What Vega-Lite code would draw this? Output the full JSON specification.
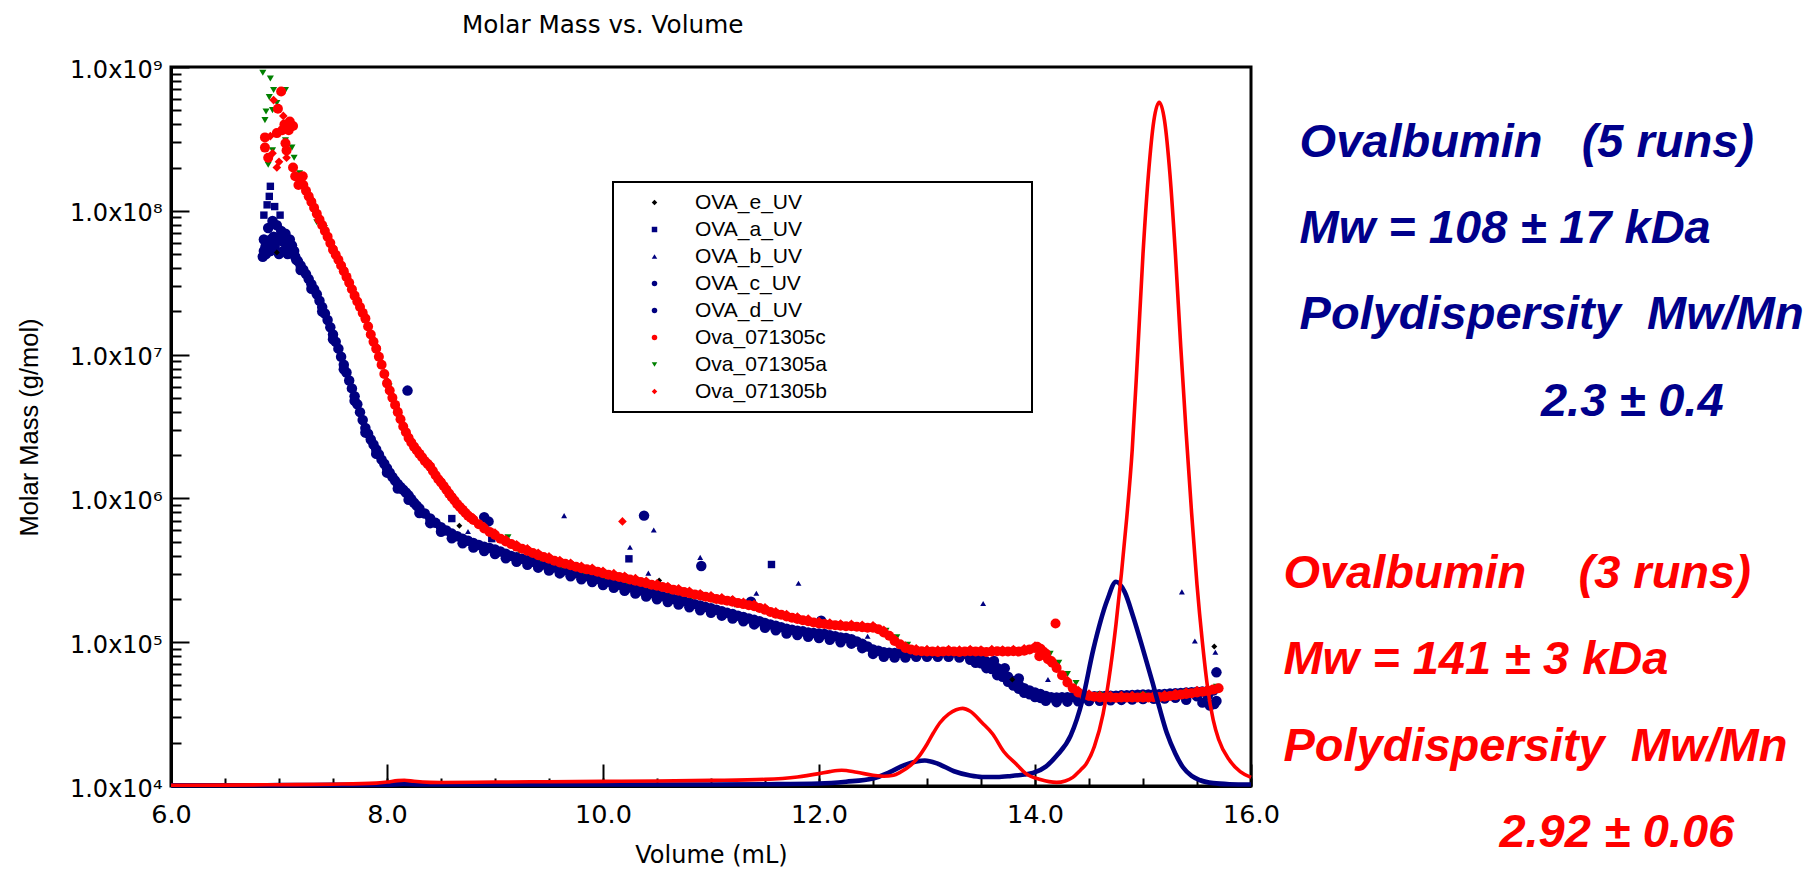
{
"$schema": "https://vega.github.io/schema/vega-lite/v6.json",
"width": 1080, "height": 719,
"autosize": {"type": "none"},
"padding": {"left": 171, "top": 67, "right": 565, "bottom": 86},
"background": "white",
"title": {"text": "Molar Mass vs. Volume", "anchor": "start", "frame": "group", "dx": 291, "dy": 24, "offset": 24, "baseline": "alphabetic", "font": "DejaVu Sans", "fontSize": 24.7, "fontWeight": "normal", "color": "black"},
"config": {
  "view": {"stroke": "black", "strokeWidth": 3},
  "axis": {"grid": false},
  "legend": {"strokeColor": "black", "strokeWidth": 2, "fillColor": "white", "padding": 10, "symbolOffset": 21, "symbolSize": 30, "labelOffset": 30, "labelLimit": 600, "labelFont": "Liberation Sans", "labelFontSize": 21, "labelColor": "black", "rowPadding": 5, "symbolStrokeWidth": 0}
},
"datasets": {
"scatter": [
{"series":"OVA_d_UV","vol":6.86,"mass":5.25e7},{"series":"OVA_d_UV","vol":6.875,"mass":5.62e7},{"series":"OVA_d_UV","vol":6.9,"mass":6.03e7},{"series":"OVA_d_UV","vol":6.925,"mass":6.31e7},{"series":"OVA_d_UV","vol":6.95,"mass":6.61e7},{"series":"OVA_d_UV","vol":6.975,"mass":6.46e7},{"series":"OVA_d_UV","vol":7.0,"mass":6.31e7},{"series":"OVA_d_UV","vol":7.025,"mass":6.17e7},{"series":"OVA_d_UV","vol":7.05,"mass":6.03e7},{"series":"OVA_d_UV","vol":7.075,"mass":5.75e7},{"series":"OVA_d_UV","vol":7.1,"mass":5.5e7},{"series":"OVA_d_UV","vol":7.125,"mass":5.13e7},{"series":"OVA_d_UV","vol":7.15,"mass":4.79e7},{"series":"OVA_d_UV","vol":7.175,"mass":4.47e7},{"series":"OVA_d_UV","vol":7.2,"mass":4.17e7},{"series":"OVA_d_UV","vol":7.225,"mass":3.89e7},{"series":"OVA_d_UV","vol":7.25,"mass":3.63e7},{"series":"OVA_d_UV","vol":7.275,"mass":3.35e7},{"series":"OVA_d_UV","vol":7.3,"mass":3.09e7},{"series":"OVA_d_UV","vol":7.325,"mass":2.85e7},{"series":"OVA_d_UV","vol":7.35,"mass":2.63e7},{"series":"OVA_d_UV","vol":7.375,"mass":2.37e7},{"series":"OVA_d_UV","vol":7.4,"mass":2.14e7},{"series":"OVA_d_UV","vol":7.425,"mass":1.93e7},{"series":"OVA_d_UV","vol":7.45,"mass":1.74e7},{"series":"OVA_d_UV","vol":7.475,"mass":1.55e7},{"series":"OVA_d_UV","vol":7.5,"mass":1.38e7},{"series":"OVA_d_UV","vol":7.525,"mass":1.23e7},{"series":"OVA_d_UV","vol":7.55,"mass":1.1e7},{"series":"OVA_d_UV","vol":7.575,"mass":9.66e6},{"series":"OVA_d_UV","vol":7.6,"mass":8.51e6},{"series":"OVA_d_UV","vol":7.625,"mass":7.5e6},{"series":"OVA_d_UV","vol":7.65,"mass":6.61e6},{"series":"OVA_d_UV","vol":7.675,"mass":5.82e6},{"series":"OVA_d_UV","vol":7.7,"mass":5.13e6},{"series":"OVA_d_UV","vol":7.725,"mass":4.52e6},{"series":"OVA_d_UV","vol":7.75,"mass":3.98e6},{"series":"OVA_d_UV","vol":7.775,"mass":3.51e6},{"series":"OVA_d_UV","vol":7.8,"mass":3.09e6},{"series":"OVA_d_UV","vol":7.825,"mass":2.82e6},{"series":"OVA_d_UV","vol":7.85,"mass":2.57e6},{"series":"OVA_d_UV","vol":7.875,"mass":2.37e6},{"series":"OVA_d_UV","vol":7.9,"mass":2.19e6},{"series":"OVA_d_UV","vol":7.925,"mass":2.02e6},{"series":"OVA_d_UV","vol":7.95,"mass":1.86e6},{"series":"OVA_d_UV","vol":7.975,"mass":1.74e6},{"series":"OVA_d_UV","vol":8.0,"mass":1.62e6},{"series":"OVA_d_UV","vol":8.025,"mass":1.51e6},{"series":"OVA_d_UV","vol":8.05,"mass":1.41e6},{"series":"OVA_d_UV","vol":8.075,"mass":1.33e6},{"series":"OVA_d_UV","vol":8.1,"mass":1.26e6},{"series":"OVA_d_UV","vol":8.125,"mass":1.2e6},{"series":"OVA_d_UV","vol":8.15,"mass":1.15e6},{"series":"OVA_d_UV","vol":8.175,"mass":1.1e6},{"series":"OVA_d_UV","vol":8.2,"mass":1.05e6},{"series":"OVA_d_UV","vol":8.225,"mass":9.89e5},{"series":"OVA_d_UV","vol":8.25,"mass":9.33e5},{"series":"OVA_d_UV","vol":8.275,"mass":8.91e5},{"series":"OVA_d_UV","vol":8.3,"mass":8.51e5},
{"series":"OVA_d_UV","vol":8.35,"mass":7.85e5},{"series":"OVA_d_UV","vol":8.4,"mass":7.24e5},{"series":"OVA_d_UV","vol":8.45,"mass":6.76e5},{"series":"OVA_d_UV","vol":8.5,"mass":6.31e5},{"series":"OVA_d_UV","vol":8.55,"mass":5.98e5},{"series":"OVA_d_UV","vol":8.6,"mass":5.69e5},{"series":"OVA_d_UV","vol":8.65,"mass":5.46e5},{"series":"OVA_d_UV","vol":8.7,"mass":5.25e5},{"series":"OVA_d_UV","vol":8.75,"mass":5.07e5},{"series":"OVA_d_UV","vol":8.8,"mass":4.9e5},{"series":"OVA_d_UV","vol":8.85,"mass":4.75e5},{"series":"OVA_d_UV","vol":8.9,"mass":4.62e5},{"series":"OVA_d_UV","vol":8.95,"mass":4.52e5},{"series":"OVA_d_UV","vol":9.0,"mass":4.42e5},{"series":"OVA_d_UV","vol":9.05,"mass":4.27e5},{"series":"OVA_d_UV","vol":9.1,"mass":4.12e5},{"series":"OVA_d_UV","vol":9.15,"mass":3.98e5},{"series":"OVA_d_UV","vol":9.2,"mass":3.89e5},{"series":"OVA_d_UV","vol":9.25,"mass":3.8e5},{"series":"OVA_d_UV","vol":9.3,"mass":3.72e5},{"series":"OVA_d_UV","vol":9.35,"mass":3.63e5},{"series":"OVA_d_UV","vol":9.4,"mass":3.55e5},{"series":"OVA_d_UV","vol":9.45,"mass":3.47e5},{"series":"OVA_d_UV","vol":9.5,"mass":3.39e5},{"series":"OVA_d_UV","vol":9.55,"mass":3.31e5},{"series":"OVA_d_UV","vol":9.6,"mass":3.24e5},{"series":"OVA_d_UV","vol":9.65,"mass":3.16e5},{"series":"OVA_d_UV","vol":9.7,"mass":3.09e5},{"series":"OVA_d_UV","vol":9.75,"mass":3.02e5},{"series":"OVA_d_UV","vol":9.8,"mass":2.95e5},{"series":"OVA_d_UV","vol":9.85,"mass":2.88e5},{"series":"OVA_d_UV","vol":9.9,"mass":2.82e5},{"series":"OVA_d_UV","vol":9.95,"mass":2.75e5},{"series":"OVA_d_UV","vol":10.0,"mass":2.69e5},{"series":"OVA_d_UV","vol":10.05,"mass":2.63e5},{"series":"OVA_d_UV","vol":10.1,"mass":2.57e5},{"series":"OVA_d_UV","vol":10.15,"mass":2.51e5},{"series":"OVA_d_UV","vol":10.2,"mass":2.45e5},{"series":"OVA_d_UV","vol":10.25,"mass":2.4e5},{"series":"OVA_d_UV","vol":10.3,"mass":2.34e5},{"series":"OVA_d_UV","vol":10.35,"mass":2.29e5},{"series":"OVA_d_UV","vol":10.4,"mass":2.24e5},{"series":"OVA_d_UV","vol":10.45,"mass":2.19e5},{"series":"OVA_d_UV","vol":10.5,"mass":2.14e5},{"series":"OVA_d_UV","vol":10.55,"mass":2.09e5},{"series":"OVA_d_UV","vol":10.6,"mass":2.04e5},{"series":"OVA_d_UV","vol":10.65,"mass":2.0e5},{"series":"OVA_d_UV","vol":10.7,"mass":1.97e5},{"series":"OVA_d_UV","vol":10.75,"mass":1.93e5},{"series":"OVA_d_UV","vol":10.8,"mass":1.88e5},{"series":"OVA_d_UV","vol":10.85,"mass":1.84e5},{"series":"OVA_d_UV","vol":10.9,"mass":1.8e5},{"series":"OVA_d_UV","vol":10.95,"mass":1.76e5},{"series":"OVA_d_UV","vol":11.0,"mass":1.72e5},{"series":"OVA_d_UV","vol":11.05,"mass":1.68e5},{"series":"OVA_d_UV","vol":11.1,"mass":1.64e5},{"series":"OVA_d_UV","vol":11.15,"mass":1.6e5},{"series":"OVA_d_UV","vol":11.2,"mass":1.57e5},{"series":"OVA_d_UV","vol":11.25,"mass":1.53e5},{"series":"OVA_d_UV","vol":11.3,"mass":1.5e5},{"series":"OVA_d_UV","vol":11.35,"mass":1.46e5},{"series":"OVA_d_UV","vol":11.4,"mass":1.43e5},{"series":"OVA_d_UV","vol":11.45,"mass":1.4e5},{"series":"OVA_d_UV","vol":11.5,"mass":1.36e5},{"series":"OVA_d_UV","vol":11.55,"mass":1.33e5},{"series":"OVA_d_UV","vol":11.6,"mass":1.3e5},{"series":"OVA_d_UV","vol":11.65,"mass":1.27e5},{"series":"OVA_d_UV","vol":11.7,"mass":1.24e5},{"series":"OVA_d_UV","vol":11.75,"mass":1.22e5},{"series":"OVA_d_UV","vol":11.8,"mass":1.2e5},{"series":"OVA_d_UV","vol":11.85,"mass":1.19e5},{"series":"OVA_d_UV","vol":11.9,"mass":1.17e5},{"series":"OVA_d_UV","vol":11.95,"mass":1.16e5},{"series":"OVA_d_UV","vol":12.0,"mass":1.15e5},{"series":"OVA_d_UV","vol":12.05,"mass":1.14e5},{"series":"OVA_d_UV","vol":12.1,"mass":1.12e5},{"series":"OVA_d_UV","vol":12.15,"mass":1.1e5},{"series":"OVA_d_UV","vol":12.2,"mass":1.08e5},{"series":"OVA_d_UV","vol":12.25,"mass":1.07e5},{"series":"OVA_d_UV","vol":12.3,"mass":1.05e5},{"series":"OVA_d_UV","vol":12.35,"mass":1.01e5},{"series":"OVA_d_UV","vol":12.4,"mass":9.77e4},{"series":"OVA_d_UV","vol":12.45,"mass":9.33e4},{"series":"OVA_d_UV","vol":12.5,"mass":8.91e4},{"series":"OVA_d_UV","vol":12.55,"mass":8.71e4},{"series":"OVA_d_UV","vol":12.6,"mass":8.51e4},{"series":"OVA_d_UV","vol":12.65,"mass":8.45e4},{"series":"OVA_d_UV","vol":12.7,"mass":8.41e4},{"series":"OVA_d_UV","vol":12.75,"mass":8.41e4},{"series":"OVA_d_UV","vol":12.8,"mass":8.41e4},{"series":"OVA_d_UV","vol":12.85,"mass":8.45e4},{"series":"OVA_d_UV","vol":12.9,"mass":8.51e4},{"series":"OVA_d_UV","vol":12.95,"mass":8.51e4},{"series":"OVA_d_UV","vol":13.0,"mass":8.51e4},{"series":"OVA_d_UV","vol":13.05,"mass":8.45e4},{"series":"OVA_d_UV","vol":13.1,"mass":8.51e4},{"series":"OVA_d_UV","vol":13.15,"mass":8.51e4},{"series":"OVA_d_UV","vol":13.2,"mass":8.45e4},{"series":"OVA_d_UV","vol":13.25,"mass":8.51e4},{"series":"OVA_d_UV","vol":13.3,"mass":8.41e4},{"series":"OVA_d_UV","vol":13.35,"mass":8.32e4},{"series":"OVA_d_UV","vol":13.4,"mass":8.13e4},{"series":"OVA_d_UV","vol":13.45,"mass":7.94e4},{"series":"OVA_d_UV","vol":13.5,"mass":7.67e4},{"series":"OVA_d_UV","vol":13.55,"mass":7.33e4},{"series":"OVA_d_UV","vol":13.6,"mass":7.0e4},{"series":"OVA_d_UV","vol":13.65,"mass":6.61e4},{"series":"OVA_d_UV","vol":13.7,"mass":6.17e4},{"series":"OVA_d_UV","vol":13.75,"mass":5.75e4},{"series":"OVA_d_UV","vol":13.8,"mass":5.37e4},{"series":"OVA_d_UV","vol":13.85,"mass":5.07e4},{"series":"OVA_d_UV","vol":13.9,"mass":4.79e4},{"series":"OVA_d_UV","vol":13.95,"mass":4.62e4},{"series":"OVA_d_UV","vol":14.0,"mass":4.47e4},{"series":"OVA_d_UV","vol":14.05,"mass":4.37e4},{"series":"OVA_d_UV","vol":14.1,"mass":4.22e4},{"series":"OVA_d_UV","vol":14.15,"mass":4.14e4},{"series":"OVA_d_UV","vol":14.2,"mass":4.12e4},{"series":"OVA_d_UV","vol":14.25,"mass":4.14e4},{"series":"OVA_d_UV","vol":14.3,"mass":4.15e4},{"series":"OVA_d_UV","vol":14.35,"mass":4.16e4},{"series":"OVA_d_UV","vol":14.4,"mass":4.17e4},{"series":"OVA_d_UV","vol":14.45,"mass":4.18e4},{"series":"OVA_d_UV","vol":14.5,"mass":4.19e4},{"series":"OVA_d_UV","vol":14.55,"mass":4.21e4},{"series":"OVA_d_UV","vol":14.6,"mass":4.22e4},{"series":"OVA_d_UV","vol":14.65,"mass":4.23e4},{"series":"OVA_d_UV","vol":14.7,"mass":4.24e4},{"series":"OVA_d_UV","vol":14.75,"mass":4.25e4},{"series":"OVA_d_UV","vol":14.8,"mass":4.27e4},{"series":"OVA_d_UV","vol":14.85,"mass":4.28e4},{"series":"OVA_d_UV","vol":14.9,"mass":4.29e4},{"series":"OVA_d_UV","vol":14.95,"mass":4.31e4},{"series":"OVA_d_UV","vol":15.0,"mass":4.32e4},{"series":"OVA_d_UV","vol":15.05,"mass":4.33e4},{"series":"OVA_d_UV","vol":15.1,"mass":4.34e4},{"series":"OVA_d_UV","vol":15.15,"mass":4.35e4},{"series":"OVA_d_UV","vol":15.2,"mass":4.37e4},{"series":"OVA_d_UV","vol":15.25,"mass":4.39e4},{"series":"OVA_d_UV","vol":15.3,"mass":4.42e4},{"series":"OVA_d_UV","vol":15.35,"mass":4.44e4},{"series":"OVA_d_UV","vol":15.4,"mass":4.47e4},{"series":"OVA_d_UV","vol":15.45,"mass":4.49e4},{"series":"OVA_d_UV","vol":15.5,"mass":4.52e4},{"series":"OVA_d_UV","vol":15.55,"mass":4.55e4},{"series":"OVA_d_UV","vol":15.6,"mass":4.57e4},{"series":"OVA_d_UV","vol":15.65,"mass":4.62e4},
{"series":"OVA_d_UV","vol":15.55,"mass":3.8e4},{"series":"OVA_d_UV","vol":15.62,"mass":3.63e4},{"series":"OVA_d_UV","vol":15.66,"mass":3.72e4},{"series":"OVA_d_UV","vol":15.4,"mass":3.98e4},{"series":"OVA_d_UV","vol":13.62,"mass":7.4e4},{"series":"OVA_d_UV","vol":13.72,"mass":6.6e4},{"series":"OVA_d_UV","vol":13.85,"mass":5.6e4},{"series":"OVA_d_UV","vol":8.94,"mass":6.92e5},
{"series":"OVA_d_UV","vol":6.85,"mass":4.79e7},{"series":"OVA_d_UV","vol":6.88,"mass":5.01e7},{"series":"OVA_d_UV","vol":6.92,"mass":5.25e7},{"series":"OVA_d_UV","vol":6.96,"mass":5.62e7},{"series":"OVA_d_UV","vol":7.0,"mass":5.01e7},{"series":"OVA_d_UV","vol":7.04,"mass":5.25e7},{"series":"OVA_d_UV","vol":7.08,"mass":5.01e7},{"series":"OVA_d_UV","vol":7.14,"mass":5.25e7},
{"series":"OVA_c_UV","vol":6.86,"mass":6.31e7},{"series":"OVA_c_UV","vol":6.9,"mass":7.59e7},{"series":"OVA_c_UV","vol":6.94,"mass":8.51e7},{"series":"OVA_c_UV","vol":6.98,"mass":7.94e7},{"series":"OVA_c_UV","vol":7.02,"mass":7.24e7},{"series":"OVA_c_UV","vol":7.06,"mass":6.92e7},{"series":"OVA_c_UV","vol":7.1,"mass":6.31e7},{"series":"OVA_c_UV","vol":7.12,"mass":5.75e7},{"series":"OVA_c_UV","vol":7.16,"mass":4.57e7},
{"series":"OVA_c_UV","vol":7.2,"mass":3.88e7},{"series":"OVA_c_UV","vol":7.3,"mass":2.87e7},{"series":"OVA_c_UV","vol":7.4,"mass":1.99e7},{"series":"OVA_c_UV","vol":7.5,"mass":1.28e7},{"series":"OVA_c_UV","vol":7.6,"mass":7.91e6},{"series":"OVA_c_UV","vol":7.7,"mass":4.77e6},{"series":"OVA_c_UV","vol":7.8,"mass":2.87e6},{"series":"OVA_c_UV","vol":7.9,"mass":2.04e6},{"series":"OVA_c_UV","vol":8.0,"mass":1.51e6},{"series":"OVA_c_UV","vol":8.1,"mass":1.17e6},{"series":"OVA_c_UV","vol":8.2,"mass":9.77e5},{"series":"OVA_c_UV","vol":8.3,"mass":7.91e5},{"series":"OVA_c_UV","vol":8.4,"mass":6.73e5},{"series":"OVA_c_UV","vol":8.5,"mass":5.87e5},{"series":"OVA_c_UV","vol":8.6,"mass":5.29e5},{"series":"OVA_c_UV","vol":8.7,"mass":4.88e5},{"series":"OVA_c_UV","vol":8.8,"mass":4.56e5},{"series":"OVA_c_UV","vol":8.9,"mass":4.3e5},{"series":"OVA_c_UV","vol":9.0,"mass":4.11e5},{"series":"OVA_c_UV","vol":9.1,"mass":3.83e5},{"series":"OVA_c_UV","vol":9.2,"mass":3.62e5},{"series":"OVA_c_UV","vol":9.3,"mass":3.46e5},{"series":"OVA_c_UV","vol":9.4,"mass":3.3e5},{"series":"OVA_c_UV","vol":9.5,"mass":3.15e5},{"series":"OVA_c_UV","vol":9.6,"mass":3.01e5},{"series":"OVA_c_UV","vol":9.7,"mass":2.87e5},{"series":"OVA_c_UV","vol":9.8,"mass":2.74e5},{"series":"OVA_c_UV","vol":9.9,"mass":2.62e5},{"series":"OVA_c_UV","vol":10.0,"mass":2.5e5},{"series":"OVA_c_UV","vol":10.1,"mass":2.39e5},{"series":"OVA_c_UV","vol":10.2,"mass":2.28e5},{"series":"OVA_c_UV","vol":10.3,"mass":2.18e5},{"series":"OVA_c_UV","vol":10.4,"mass":2.08e5},{"series":"OVA_c_UV","vol":10.5,"mass":1.99e5},{"series":"OVA_c_UV","vol":10.6,"mass":1.9e5},{"series":"OVA_c_UV","vol":10.7,"mass":1.83e5},{"series":"OVA_c_UV","vol":10.8,"mass":1.75e5},{"series":"OVA_c_UV","vol":10.9,"mass":1.67e5},{"series":"OVA_c_UV","vol":11.0,"mass":1.6e5},{"series":"OVA_c_UV","vol":11.1,"mass":1.53e5},{"series":"OVA_c_UV","vol":11.2,"mass":1.46e5},{"series":"OVA_c_UV","vol":11.3,"mass":1.4e5},{"series":"OVA_c_UV","vol":11.4,"mass":1.33e5},{"series":"OVA_c_UV","vol":11.5,"mass":1.26e5},{"series":"OVA_c_UV","vol":11.6,"mass":1.21e5},{"series":"OVA_c_UV","vol":11.7,"mass":1.15e5},{"series":"OVA_c_UV","vol":11.8,"mass":1.12e5},{"series":"OVA_c_UV","vol":11.9,"mass":1.09e5},{"series":"OVA_c_UV","vol":12.0,"mass":1.07e5},{"series":"OVA_c_UV","vol":12.1,"mass":1.04e5},{"series":"OVA_c_UV","vol":12.2,"mass":1.0e5},{"series":"OVA_c_UV","vol":12.3,"mass":9.77e4},{"series":"OVA_c_UV","vol":12.4,"mass":9.09e4},{"series":"OVA_c_UV","vol":12.5,"mass":8.29e4},{"series":"OVA_c_UV","vol":12.6,"mass":7.91e4},{"series":"OVA_c_UV","vol":12.7,"mass":7.82e4},{"series":"OVA_c_UV","vol":12.8,"mass":7.82e4},{"series":"OVA_c_UV","vol":12.9,"mass":7.91e4},{"series":"OVA_c_UV","vol":13.0,"mass":7.91e4},{"series":"OVA_c_UV","vol":13.1,"mass":7.91e4},{"series":"OVA_c_UV","vol":13.2,"mass":7.91e4},{"series":"OVA_c_UV","vol":13.3,"mass":7.82e4},{"series":"OVA_c_UV","vol":13.4,"mass":7.56e4},{"series":"OVA_c_UV","vol":13.5,"mass":7.13e4},{"series":"OVA_c_UV","vol":13.6,"mass":6.51e4},{"series":"OVA_c_UV","vol":13.7,"mass":5.74e4},{"series":"OVA_c_UV","vol":13.8,"mass":4.99e4},{"series":"OVA_c_UV","vol":13.9,"mass":4.45e4},{"series":"OVA_c_UV","vol":14.0,"mass":4.16e4},{"series":"OVA_c_UV","vol":14.1,"mass":3.92e4},{"series":"OVA_c_UV","vol":14.2,"mass":3.83e4},{"series":"OVA_c_UV","vol":14.3,"mass":3.86e4},{"series":"OVA_c_UV","vol":14.4,"mass":3.88e4},{"series":"OVA_c_UV","vol":14.5,"mass":3.9e4},{"series":"OVA_c_UV","vol":14.6,"mass":3.92e4},{"series":"OVA_c_UV","vol":14.7,"mass":3.94e4},{"series":"OVA_c_UV","vol":14.8,"mass":3.97e4},{"series":"OVA_c_UV","vol":14.9,"mass":3.99e4},{"series":"OVA_c_UV","vol":15.0,"mass":4.02e4},{"series":"OVA_c_UV","vol":15.1,"mass":4.04e4},{"series":"OVA_c_UV","vol":15.2,"mass":4.06e4},{"series":"OVA_c_UV","vol":15.3,"mass":4.11e4},{"series":"OVA_c_UV","vol":15.4,"mass":4.16e4},{"series":"OVA_c_UV","vol":15.5,"mass":4.2e4},{"series":"OVA_c_UV","vol":15.6,"mass":4.25e4},
{"series":"OVA_c_UV","vol":15.68,"mass":3.9e4},{"series":"OVA_c_UV","vol":13.45,"mass":7.2e4},{"series":"OVA_c_UV","vol":13.55,"mass":6.6e4},{"series":"OVA_c_UV","vol":13.65,"mass":5.9e4},{"series":"OVA_c_UV","vol":13.75,"mass":5.3e4},{"series":"OVA_c_UV","vol":13.85,"mass":4.75e4},{"series":"OVA_c_UV","vol":13.95,"mass":4.35e4},{"series":"OVA_c_UV","vol":14.05,"mass":4.1e4},
{"series":"OVA_c_UV","vol":8.19,"mass":5.62e6},{"series":"OVA_c_UV","vol":8.9,"mass":7.41e5},{"series":"OVA_c_UV","vol":10.38,"mass":7.59e5},{"series":"OVA_c_UV","vol":10.91,"mass":3.39e5},{"series":"OVA_c_UV","vol":11.37,"mass":1.91e5},{"series":"OVA_c_UV","vol":12.02,"mass":1.41e5},{"series":"OVA_c_UV","vol":15.68,"mass":6.17e4},
{"series":"OVA_a_UV","vol":6.92,"mass":1.48e8},{"series":"OVA_a_UV","vol":6.91,"mass":1.26e8},{"series":"OVA_a_UV","vol":6.89,"mass":1.1e8},{"series":"OVA_a_UV","vol":6.86,"mass":9.33e7},{"series":"OVA_a_UV","vol":6.96,"mass":1.07e8},{"series":"OVA_a_UV","vol":7.01,"mass":9.33e7},{"series":"OVA_a_UV","vol":8.6,"mass":7.24e5},{"series":"OVA_a_UV","vol":8.97,"mass":5.25e5},{"series":"OVA_a_UV","vol":10.24,"mass":3.8e5},{"series":"OVA_a_UV","vol":11.56,"mass":3.47e5},
{"series":"OVA_b_UV","vol":8.75,"mass":5.89e5},{"series":"OVA_b_UV","vol":9.64,"mass":7.59e5},{"series":"OVA_b_UV","vol":10.47,"mass":6.03e5},{"series":"OVA_b_UV","vol":10.25,"mass":4.57e5},{"series":"OVA_b_UV","vol":10.9,"mass":3.89e5},{"series":"OVA_b_UV","vol":11.81,"mass":2.57e5},{"series":"OVA_b_UV","vol":11.42,"mass":2.19e5},{"series":"OVA_b_UV","vol":10.42,"mass":3.02e5},{"series":"OVA_b_UV","vol":12.45,"mass":1.1e5},{"series":"OVA_b_UV","vol":13.52,"mass":1.86e5},{"series":"OVA_b_UV","vol":15.36,"mass":2.24e5},{"series":"OVA_b_UV","vol":15.48,"mass":1.02e5},{"series":"OVA_b_UV","vol":15.67,"mass":8.51e4},{"series":"OVA_b_UV","vol":14.12,"mass":5.5e4},{"series":"OVA_b_UV","vol":13.8,"mass":5.01e4},
{"series":"OVA_e_UV","vol":6.98,"mass":5.13e7},{"series":"OVA_e_UV","vol":8.67,"mass":6.46e5},{"series":"OVA_e_UV","vol":10.52,"mass":2.69e5},{"series":"OVA_e_UV","vol":11.19,"mass":2.0e5},{"series":"OVA_e_UV","vol":13.79,"mass":5.5e4},{"series":"OVA_e_UV","vol":15.66,"mass":9.33e4},
{"series":"Ova_071305a","vol":6.85,"mass":9.12e8},{"series":"Ova_071305a","vol":6.92,"mass":8.32e8},{"series":"Ova_071305a","vol":6.95,"mass":6.92e8},{"series":"Ova_071305a","vol":7.06,"mass":6.92e8},{"series":"Ova_071305a","vol":6.91,"mass":6.17e8},{"series":"Ova_071305a","vol":6.98,"mass":5.62e8},{"series":"Ova_071305a","vol":6.88,"mass":4.9e8},{"series":"Ova_071305a","vol":6.94,"mass":5.01e8},{"series":"Ova_071305a","vol":6.87,"mass":4.27e8},{"series":"Ova_071305a","vol":7.01,"mass":3.47e8},{"series":"Ova_071305a","vol":7.06,"mass":3.09e8},{"series":"Ova_071305a","vol":7.12,"mass":2.75e8},{"series":"Ova_071305a","vol":6.94,"mass":2.63e8},{"series":"Ova_071305a","vol":6.9,"mass":2.09e8},{"series":"Ova_071305a","vol":7.14,"mass":2.34e8},{"series":"Ova_071305a","vol":7.19,"mass":1.82e8},{"series":"Ova_071305a","vol":7.27,"mass":1.26e8},{"series":"Ova_071305a","vol":7.35,"mass":8.32e7},
{"series":"Ova_071305a","vol":7.42,"mass":7.6e7},{"series":"Ova_071305a","vol":7.62,"mass":3.5e7},{"series":"Ova_071305a","vol":7.82,"mass":1.6e7},{"series":"Ova_071305a","vol":8.02,"mass":6.0e6},{"series":"Ova_071305a","vol":8.22,"mass":2.45e6},{"series":"Ova_071305a","vol":8.42,"mass":1.55e6},{"series":"Ova_071305a","vol":8.62,"mass":9.6e5},{"series":"Ova_071305a","vol":8.82,"mass":6.7e5},{"series":"Ova_071305a","vol":9.02,"mass":5.25e5},{"series":"Ova_071305a","vol":9.12,"mass":5.37e5},{"series":"Ova_071305a","vol":9.22,"mass":4.35e5},{"series":"Ova_071305a","vol":9.42,"mass":3.8e5},{"series":"Ova_071305a","vol":9.62,"mass":3.4e5},{"series":"Ova_071305a","vol":9.82,"mass":3.1e5},{"series":"Ova_071305a","vol":10.02,"mass":2.85e5},{"series":"Ova_071305a","vol":10.22,"mass":2.65e5},{"series":"Ova_071305a","vol":10.42,"mass":2.45e5},{"series":"Ova_071305a","vol":10.62,"mass":2.25e5},{"series":"Ova_071305a","vol":10.82,"mass":2.08e5},{"series":"Ova_071305a","vol":11.02,"mass":1.95e5},{"series":"Ova_071305a","vol":11.22,"mass":1.82e5},{"series":"Ova_071305a","vol":11.42,"mass":1.7e5},{"series":"Ova_071305a","vol":11.62,"mass":1.52e5},{"series":"Ova_071305a","vol":11.82,"mass":1.4e5},{"series":"Ova_071305a","vol":12.02,"mass":1.31e5},{"series":"Ova_071305a","vol":12.22,"mass":1.28e5},{"series":"Ova_071305a","vol":12.42,"mass":1.27e5},{"series":"Ova_071305a","vol":12.62,"mass":1.2e5},{"series":"Ova_071305a","vol":12.72,"mass":1.08e5},{"series":"Ova_071305a","vol":12.82,"mass":9.6e4},{"series":"Ova_071305a","vol":13.02,"mass":8.8e4},{"series":"Ova_071305a","vol":13.42,"mass":8.8e4},{"series":"Ova_071305a","vol":13.82,"mass":8.8e4},{"series":"Ova_071305a","vol":14.02,"mass":9.3e4},{"series":"Ova_071305a","vol":14.14,"mass":8.3e4},{"series":"Ova_071305a","vol":14.22,"mass":7.2e4},{"series":"Ova_071305a","vol":14.3,"mass":6.0e4},{"series":"Ova_071305a","vol":14.38,"mass":5.2e4},{"series":"Ova_071305a","vol":14.6,"mass":4.3e4},{"series":"Ova_071305a","vol":15.0,"mass":4.3e4},{"series":"Ova_071305a","vol":15.4,"mass":4.5e4},{"series":"Ova_071305a","vol":15.68,"mass":4.9e4},
{"series":"Ova_071305b","vol":6.95,"mass":5.89e8},{"series":"Ova_071305b","vol":6.94,"mass":2.51e8},{"series":"Ova_071305b","vol":7.0,"mass":2.19e8},{"series":"Ova_071305b","vol":6.98,"mass":2.0e8},{"series":"Ova_071305b","vol":7.07,"mass":2.34e8},{"series":"Ova_071305b","vol":7.04,"mass":4.57e8},{"series":"Ova_071305b","vol":6.92,"mass":3.31e8},{"series":"Ova_071305b","vol":10.18,"mass":6.92e5},
{"series":"Ova_071305b","vol":7.3,"mass":1.2e8},{"series":"Ova_071305b","vol":7.4,"mass":8.26e7},{"series":"Ova_071305b","vol":7.5,"mass":5.58e7},{"series":"Ova_071305b","vol":7.6,"mass":3.95e7},{"series":"Ova_071305b","vol":7.7,"mass":2.67e7},{"series":"Ova_071305b","vol":7.8,"mass":1.85e7},{"series":"Ova_071305b","vol":7.9,"mass":1.14e7},{"series":"Ova_071305b","vol":8.0,"mass":6.56e6},{"series":"Ova_071305b","vol":8.1,"mass":4.14e6},{"series":"Ova_071305b","vol":8.2,"mass":2.74e6},{"series":"Ova_071305b","vol":8.3,"mass":2.12e6},{"series":"Ova_071305b","vol":8.4,"mass":1.73e6},{"series":"Ova_071305b","vol":8.5,"mass":1.34e6},{"series":"Ova_071305b","vol":8.6,"mass":1.06e6},{"series":"Ova_071305b","vol":8.7,"mass":8.65e5},{"series":"Ova_071305b","vol":8.8,"mass":7.36e5},{"series":"Ova_071305b","vol":8.9,"mass":6.42e5},{"series":"Ova_071305b","vol":9.0,"mass":5.78e5},{"series":"Ova_071305b","vol":9.1,"mass":5.21e5},{"series":"Ova_071305b","vol":9.2,"mass":4.8e5},{"series":"Ova_071305b","vol":9.3,"mass":4.49e5},{"series":"Ova_071305b","vol":9.4,"mass":4.19e5},{"series":"Ova_071305b","vol":9.5,"mass":3.95e5},{"series":"Ova_071305b","vol":9.6,"mass":3.73e5},{"series":"Ova_071305b","vol":9.7,"mass":3.57e5},{"series":"Ova_071305b","vol":9.8,"mass":3.4e5},{"series":"Ova_071305b","vol":9.9,"mass":3.29e5},{"series":"Ova_071305b","vol":10.0,"mass":3.14e5},{"series":"Ova_071305b","vol":10.1,"mass":3.02e5},{"series":"Ova_071305b","vol":10.2,"mass":2.9e5},{"series":"Ova_071305b","vol":10.3,"mass":2.79e5},{"series":"Ova_071305b","vol":10.4,"mass":2.67e5},{"series":"Ova_071305b","vol":10.5,"mass":2.57e5},{"series":"Ova_071305b","vol":10.6,"mass":2.46e5},{"series":"Ova_071305b","vol":10.7,"mass":2.37e5},{"series":"Ova_071305b","vol":10.8,"mass":2.28e5},{"series":"Ova_071305b","vol":10.9,"mass":2.19e5},{"series":"Ova_071305b","vol":11.0,"mass":2.12e5},{"series":"Ova_071305b","vol":11.1,"mass":2.05e5},{"series":"Ova_071305b","vol":11.2,"mass":1.99e5},{"series":"Ova_071305b","vol":11.3,"mass":1.91e5},{"series":"Ova_071305b","vol":11.4,"mass":1.85e5},{"series":"Ova_071305b","vol":11.5,"mass":1.75e5},{"series":"Ova_071305b","vol":11.6,"mass":1.64e5},{"series":"Ova_071305b","vol":11.7,"mass":1.57e5},{"series":"Ova_071305b","vol":11.8,"mass":1.51e5},{"series":"Ova_071305b","vol":11.9,"mass":1.46e5},{"series":"Ova_071305b","vol":12.0,"mass":1.4e5},{"series":"Ova_071305b","vol":12.1,"mass":1.37e5},{"series":"Ova_071305b","vol":12.2,"mass":1.35e5},{"series":"Ova_071305b","vol":12.3,"mass":1.34e5},{"series":"Ova_071305b","vol":12.4,"mass":1.32e5},{"series":"Ova_071305b","vol":12.5,"mass":1.31e5},{"series":"Ova_071305b","vol":12.6,"mass":1.22e5},{"series":"Ova_071305b","vol":12.7,"mass":1.06e5},{"series":"Ova_071305b","vol":12.8,"mass":9.48e4},{"series":"Ova_071305b","vol":12.9,"mass":9.06e4},{"series":"Ova_071305b","vol":13.0,"mass":8.95e4},{"series":"Ova_071305b","vol":13.1,"mass":8.9e4},{"series":"Ova_071305b","vol":13.2,"mass":8.95e4},{"series":"Ova_071305b","vol":13.3,"mass":8.9e4},{"series":"Ova_071305b","vol":13.4,"mass":8.95e4},{"series":"Ova_071305b","vol":13.5,"mass":8.9e4},{"series":"Ova_071305b","vol":13.6,"mass":8.95e4},{"series":"Ova_071305b","vol":13.7,"mass":8.9e4},{"series":"Ova_071305b","vol":13.8,"mass":8.95e4},{"series":"Ova_071305b","vol":13.9,"mass":9.06e4},{"series":"Ova_071305b","vol":14.0,"mass":9.48e4},{"series":"Ova_071305b","vol":14.1,"mass":8.65e4},{"series":"Ova_071305b","vol":14.2,"mass":6.87e4},{"series":"Ova_071305b","vol":14.3,"mass":5.46e4},{"series":"Ova_071305b","vol":14.4,"mass":4.65e4},{"series":"Ova_071305b","vol":14.5,"mass":4.39e4},{"series":"Ova_071305b","vol":14.6,"mass":4.3e4},{"series":"Ova_071305b","vol":14.7,"mass":4.29e4},{"series":"Ova_071305b","vol":14.8,"mass":4.29e4},{"series":"Ova_071305b","vol":14.9,"mass":4.29e4},{"series":"Ova_071305b","vol":15.0,"mass":4.29e4},{"series":"Ova_071305b","vol":15.1,"mass":4.3e4},{"series":"Ova_071305b","vol":15.2,"mass":4.34e4},{"series":"Ova_071305b","vol":15.3,"mass":4.44e4},{"series":"Ova_071305b","vol":15.4,"mass":4.54e4},{"series":"Ova_071305b","vol":15.5,"mass":4.65e4},{"series":"Ova_071305b","vol":15.6,"mass":4.75e4},
{"series":"Ova_071305c","vol":7.02,"mass":6.76e8},{"series":"Ova_071305c","vol":6.99,"mass":5.13e8},{"series":"Ova_071305c","vol":7.13,"mass":3.89e8},{"series":"Ova_071305c","vol":7.09,"mass":3.63e8},{"series":"Ova_071305c","vol":7.03,"mass":3.63e8},{"series":"Ova_071305c","vol":6.98,"mass":3.47e8},{"series":"Ova_071305c","vol":6.87,"mass":3.24e8},{"series":"Ova_071305c","vol":6.87,"mass":2.75e8},{"series":"Ova_071305c","vol":7.06,"mass":2.95e8},{"series":"Ova_071305c","vol":7.07,"mass":2.63e8},{"series":"Ova_071305c","vol":6.9,"mass":2.34e8},{"series":"Ova_071305c","vol":7.13,"mass":2.0e8},{"series":"Ova_071305c","vol":7.15,"mass":1.74e8},{"series":"Ova_071305c","vol":7.19,"mass":1.7e8},{"series":"Ova_071305c","vol":7.22,"mass":1.74e8},{"series":"Ova_071305c","vol":7.18,"mass":1.51e8},{"series":"Ova_071305c","vol":7.05,"mass":3.98e8},{"series":"Ova_071305c","vol":7.1,"mass":4.17e8},
{"series":"Ova_071305c","vol":7.2,"mass":1.66e8},{"series":"Ova_071305c","vol":7.225,"mass":1.51e8},{"series":"Ova_071305c","vol":7.25,"mass":1.38e8},{"series":"Ova_071305c","vol":7.275,"mass":1.26e8},{"series":"Ova_071305c","vol":7.3,"mass":1.15e8},{"series":"Ova_071305c","vol":7.325,"mass":1.05e8},{"series":"Ova_071305c","vol":7.35,"mass":9.55e7},{"series":"Ova_071305c","vol":7.375,"mass":8.71e7},{"series":"Ova_071305c","vol":7.4,"mass":7.94e7},{"series":"Ova_071305c","vol":7.425,"mass":7.24e7},{"series":"Ova_071305c","vol":7.45,"mass":6.61e7},{"series":"Ova_071305c","vol":7.475,"mass":5.96e7},{"series":"Ova_071305c","vol":7.5,"mass":5.37e7},{"series":"Ova_071305c","vol":7.525,"mass":4.95e7},{"series":"Ova_071305c","vol":7.55,"mass":4.57e7},{"series":"Ova_071305c","vol":7.575,"mass":4.17e7},{"series":"Ova_071305c","vol":7.6,"mass":3.8e7},{"series":"Ova_071305c","vol":7.625,"mass":3.47e7},{"series":"Ova_071305c","vol":7.65,"mass":3.16e7},{"series":"Ova_071305c","vol":7.675,"mass":2.85e7},{"series":"Ova_071305c","vol":7.7,"mass":2.57e7},{"series":"Ova_071305c","vol":7.725,"mass":2.34e7},{"series":"Ova_071305c","vol":7.75,"mass":2.14e7},{"series":"Ova_071305c","vol":7.775,"mass":1.95e7},{"series":"Ova_071305c","vol":7.8,"mass":1.78e7},{"series":"Ova_071305c","vol":7.825,"mass":1.57e7},{"series":"Ova_071305c","vol":7.85,"mass":1.38e7},{"series":"Ova_071305c","vol":7.875,"mass":1.23e7},{"series":"Ova_071305c","vol":7.9,"mass":1.1e7},{"series":"Ova_071305c","vol":7.925,"mass":9.66e6},{"series":"Ova_071305c","vol":7.95,"mass":8.51e6},{"series":"Ova_071305c","vol":7.975,"mass":7.33e6},{"series":"Ova_071305c","vol":8.0,"mass":6.31e6},{"series":"Ova_071305c","vol":8.025,"mass":5.62e6},{"series":"Ova_071305c","vol":8.05,"mass":5.01e6},{"series":"Ova_071305c","vol":8.075,"mass":4.47e6},{"series":"Ova_071305c","vol":8.1,"mass":3.98e6},{"series":"Ova_071305c","vol":8.125,"mass":3.55e6},{"series":"Ova_071305c","vol":8.15,"mass":3.16e6},{"series":"Ova_071305c","vol":8.175,"mass":2.88e6},{"series":"Ova_071305c","vol":8.2,"mass":2.63e6},{"series":"Ova_071305c","vol":8.225,"mass":2.45e6},{"series":"Ova_071305c","vol":8.25,"mass":2.29e6},{"series":"Ova_071305c","vol":8.275,"mass":2.16e6},{"series":"Ova_071305c","vol":8.3,"mass":2.04e6},{"series":"Ova_071305c","vol":8.325,"mass":1.93e6},{"series":"Ova_071305c","vol":8.35,"mass":1.82e6},{"series":"Ova_071305c","vol":8.375,"mass":1.74e6},{"series":"Ova_071305c","vol":8.4,"mass":1.66e6},{"series":"Ova_071305c","vol":8.425,"mass":1.55e6},{"series":"Ova_071305c","vol":8.45,"mass":1.45e6},{"series":"Ova_071305c","vol":8.475,"mass":1.36e6},{"series":"Ova_071305c","vol":8.5,"mass":1.29e6},{"series":"Ova_071305c","vol":8.525,"mass":1.22e6},{"series":"Ova_071305c","vol":8.55,"mass":1.15e6},{"series":"Ova_071305c","vol":8.575,"mass":1.08e6},{"series":"Ova_071305c","vol":8.6,"mass":1.02e6},{"series":"Ova_071305c","vol":8.625,"mass":9.66e5},{"series":"Ova_071305c","vol":8.65,"mass":9.12e5},{"series":"Ova_071305c","vol":8.675,"mass":8.71e5},{"series":"Ova_071305c","vol":8.7,"mass":8.32e5},{"series":"Ova_071305c","vol":8.725,"mass":7.94e5},{"series":"Ova_071305c","vol":8.75,"mass":7.59e5},{"series":"Ova_071305c","vol":8.775,"mass":7.33e5},{"series":"Ova_071305c","vol":8.8,"mass":7.08e5},
{"series":"Ova_071305c","vol":8.85,"mass":6.61e5},{"series":"Ova_071305c","vol":8.9,"mass":6.17e5},{"series":"Ova_071305c","vol":8.95,"mass":5.85e5},{"series":"Ova_071305c","vol":9.0,"mass":5.56e5},{"series":"Ova_071305c","vol":9.05,"mass":5.25e5},{"series":"Ova_071305c","vol":9.1,"mass":5.01e5},{"series":"Ova_071305c","vol":9.15,"mass":4.81e5},{"series":"Ova_071305c","vol":9.2,"mass":4.62e5},{"series":"Ova_071305c","vol":9.25,"mass":4.47e5},{"series":"Ova_071305c","vol":9.3,"mass":4.32e5},{"series":"Ova_071305c","vol":9.35,"mass":4.17e5},{"series":"Ova_071305c","vol":9.4,"mass":4.03e5},{"series":"Ova_071305c","vol":9.45,"mass":3.91e5},{"series":"Ova_071305c","vol":9.5,"mass":3.8e5},{"series":"Ova_071305c","vol":9.55,"mass":3.69e5},{"series":"Ova_071305c","vol":9.6,"mass":3.59e5},{"series":"Ova_071305c","vol":9.65,"mass":3.51e5},{"series":"Ova_071305c","vol":9.7,"mass":3.43e5},{"series":"Ova_071305c","vol":9.75,"mass":3.35e5},{"series":"Ova_071305c","vol":9.8,"mass":3.27e5},{"series":"Ova_071305c","vol":9.85,"mass":3.21e5},{"series":"Ova_071305c","vol":9.9,"mass":3.16e5},{"series":"Ova_071305c","vol":9.95,"mass":3.09e5},{"series":"Ova_071305c","vol":10.0,"mass":3.02e5},{"series":"Ova_071305c","vol":10.05,"mass":2.95e5},{"series":"Ova_071305c","vol":10.1,"mass":2.9e5},{"series":"Ova_071305c","vol":10.15,"mass":2.84e5},{"series":"Ova_071305c","vol":10.2,"mass":2.79e5},{"series":"Ova_071305c","vol":10.25,"mass":2.73e5},{"series":"Ova_071305c","vol":10.3,"mass":2.68e5},{"series":"Ova_071305c","vol":10.35,"mass":2.62e5},{"series":"Ova_071305c","vol":10.4,"mass":2.57e5},{"series":"Ova_071305c","vol":10.45,"mass":2.51e5},{"series":"Ova_071305c","vol":10.5,"mass":2.47e5},{"series":"Ova_071305c","vol":10.55,"mass":2.42e5},{"series":"Ova_071305c","vol":10.6,"mass":2.37e5},{"series":"Ova_071305c","vol":10.65,"mass":2.32e5},{"series":"Ova_071305c","vol":10.7,"mass":2.28e5},{"series":"Ova_071305c","vol":10.75,"mass":2.23e5},{"series":"Ova_071305c","vol":10.8,"mass":2.19e5},{"series":"Ova_071305c","vol":10.85,"mass":2.15e5},{"series":"Ova_071305c","vol":10.9,"mass":2.11e5},{"series":"Ova_071305c","vol":10.95,"mass":2.07e5},{"series":"Ova_071305c","vol":11.0,"mass":2.04e5},{"series":"Ova_071305c","vol":11.05,"mass":2.0e5},{"series":"Ova_071305c","vol":11.1,"mass":1.97e5},{"series":"Ova_071305c","vol":11.15,"mass":1.94e5},{"series":"Ova_071305c","vol":11.2,"mass":1.91e5},{"series":"Ova_071305c","vol":11.25,"mass":1.87e5},{"series":"Ova_071305c","vol":11.3,"mass":1.84e5},{"series":"Ova_071305c","vol":11.35,"mass":1.81e5},{"series":"Ova_071305c","vol":11.4,"mass":1.78e5},{"series":"Ova_071305c","vol":11.45,"mass":1.73e5},{"series":"Ova_071305c","vol":11.5,"mass":1.68e5},{"series":"Ova_071305c","vol":11.55,"mass":1.62e5},{"series":"Ova_071305c","vol":11.6,"mass":1.58e5},{"series":"Ova_071305c","vol":11.65,"mass":1.55e5},{"series":"Ova_071305c","vol":11.7,"mass":1.51e5},{"series":"Ova_071305c","vol":11.75,"mass":1.48e5},{"series":"Ova_071305c","vol":11.8,"mass":1.45e5},{"series":"Ova_071305c","vol":11.85,"mass":1.42e5},{"series":"Ova_071305c","vol":11.9,"mass":1.4e5},{"series":"Ova_071305c","vol":11.95,"mass":1.37e5},{"series":"Ova_071305c","vol":12.0,"mass":1.35e5},{"series":"Ova_071305c","vol":12.05,"mass":1.34e5},{"series":"Ova_071305c","vol":12.1,"mass":1.32e5},{"series":"Ova_071305c","vol":12.15,"mass":1.31e5},{"series":"Ova_071305c","vol":12.2,"mass":1.3e5},{"series":"Ova_071305c","vol":12.25,"mass":1.29e5},{"series":"Ova_071305c","vol":12.3,"mass":1.29e5},{"series":"Ova_071305c","vol":12.35,"mass":1.28e5},{"series":"Ova_071305c","vol":12.4,"mass":1.27e5},{"series":"Ova_071305c","vol":12.45,"mass":1.26e5},{"series":"Ova_071305c","vol":12.5,"mass":1.26e5},{"series":"Ova_071305c","vol":12.55,"mass":1.23e5},{"series":"Ova_071305c","vol":12.6,"mass":1.17e5},{"series":"Ova_071305c","vol":12.65,"mass":1.11e5},{"series":"Ova_071305c","vol":12.7,"mass":1.02e5},{"series":"Ova_071305c","vol":12.75,"mass":9.66e4},{"series":"Ova_071305c","vol":12.8,"mass":9.12e4},{"series":"Ova_071305c","vol":12.85,"mass":8.91e4},{"series":"Ova_071305c","vol":12.9,"mass":8.71e4},{"series":"Ova_071305c","vol":12.95,"mass":8.65e4},{"series":"Ova_071305c","vol":13.0,"mass":8.61e4},{"series":"Ova_071305c","vol":13.05,"mass":8.61e4},{"series":"Ova_071305c","vol":13.1,"mass":8.55e4},{"series":"Ova_071305c","vol":13.15,"mass":8.61e4},{"series":"Ova_071305c","vol":13.2,"mass":8.65e4},{"series":"Ova_071305c","vol":13.25,"mass":8.61e4},{"series":"Ova_071305c","vol":13.3,"mass":8.55e4},{"series":"Ova_071305c","vol":13.35,"mass":8.61e4},{"series":"Ova_071305c","vol":13.4,"mass":8.65e4},{"series":"Ova_071305c","vol":13.45,"mass":8.61e4},{"series":"Ova_071305c","vol":13.5,"mass":8.61e4},{"series":"Ova_071305c","vol":13.55,"mass":8.55e4},{"series":"Ova_071305c","vol":13.6,"mass":8.61e4},{"series":"Ova_071305c","vol":13.65,"mass":8.65e4},{"series":"Ova_071305c","vol":13.7,"mass":8.61e4},{"series":"Ova_071305c","vol":13.75,"mass":8.61e4},{"series":"Ova_071305c","vol":13.8,"mass":8.65e4},{"series":"Ova_071305c","vol":13.85,"mass":8.61e4},{"series":"Ova_071305c","vol":13.9,"mass":8.71e4},{"series":"Ova_071305c","vol":13.95,"mass":8.91e4},{"series":"Ova_071305c","vol":14.0,"mass":9.12e4},{"series":"Ova_071305c","vol":14.05,"mass":9.02e4},{"series":"Ova_071305c","vol":14.1,"mass":8.32e4},{"series":"Ova_071305c","vol":14.15,"mass":7.41e4},{"series":"Ova_071305c","vol":14.2,"mass":6.61e4},{"series":"Ova_071305c","vol":14.25,"mass":5.89e4},{"series":"Ova_071305c","vol":14.3,"mass":5.25e4},{"series":"Ova_071305c","vol":14.35,"mass":4.79e4},{"series":"Ova_071305c","vol":14.4,"mass":4.47e4},{"series":"Ova_071305c","vol":14.45,"mass":4.32e4},{"series":"Ova_071305c","vol":14.5,"mass":4.22e4},{"series":"Ova_071305c","vol":14.55,"mass":4.17e4},{"series":"Ova_071305c","vol":14.6,"mass":4.13e4},{"series":"Ova_071305c","vol":14.65,"mass":4.12e4},{"series":"Ova_071305c","vol":14.7,"mass":4.12e4},{"series":"Ova_071305c","vol":14.75,"mass":4.11e4},{"series":"Ova_071305c","vol":14.8,"mass":4.12e4},{"series":"Ova_071305c","vol":14.85,"mass":4.12e4},{"series":"Ova_071305c","vol":14.9,"mass":4.12e4},{"series":"Ova_071305c","vol":14.95,"mass":4.13e4},{"series":"Ova_071305c","vol":15.0,"mass":4.12e4},{"series":"Ova_071305c","vol":15.05,"mass":4.13e4},{"series":"Ova_071305c","vol":15.1,"mass":4.14e4},{"series":"Ova_071305c","vol":15.15,"mass":4.15e4},{"series":"Ova_071305c","vol":15.2,"mass":4.17e4},{"series":"Ova_071305c","vol":15.25,"mass":4.22e4},{"series":"Ova_071305c","vol":15.3,"mass":4.27e4},{"series":"Ova_071305c","vol":15.35,"mass":4.32e4},{"series":"Ova_071305c","vol":15.4,"mass":4.37e4},{"series":"Ova_071305c","vol":15.45,"mass":4.42e4},{"series":"Ova_071305c","vol":15.5,"mass":4.47e4},{"series":"Ova_071305c","vol":15.55,"mass":4.52e4},{"series":"Ova_071305c","vol":15.6,"mass":4.57e4},{"series":"Ova_071305c","vol":15.65,"mass":4.68e4},{"series":"Ova_071305c","vol":15.7,"mass":4.79e4},
{"series":"Ova_071305c","vol":14.02,"mass":9.3e4},{"series":"Ova_071305c","vol":14.06,"mass":8.8e4},{"series":"Ova_071305c","vol":14.08,"mass":8.3e4},{"series":"Ova_071305c","vol":14.12,"mass":7.6e4},{"series":"Ova_071305c","vol":14.16,"mass":7.2e4},{"series":"Ova_071305c","vol":14.04,"mass":8.0e4},{"series":"Ova_071305c","vol":14.19,"mass":1.35e5}
],
"traces": [
{"trace":"OVA_UV","vol":6.0,"signal":0.001},{"trace":"OVA_UV","vol":6.5,"signal":0.001},{"trace":"OVA_UV","vol":7.0,"signal":0.0012},{"trace":"OVA_UV","vol":7.5,"signal":0.0015},{"trace":"OVA_UV","vol":8.0,"signal":0.0018},{"trace":"OVA_UV","vol":8.15,"signal":0.0028},{"trace":"OVA_UV","vol":8.3,"signal":0.002},{"trace":"OVA_UV","vol":9.0,"signal":0.002},{"trace":"OVA_UV","vol":10.0,"signal":0.002},{"trace":"OVA_UV","vol":11.0,"signal":0.002},{"trace":"OVA_UV","vol":11.5,"signal":0.0025},{"trace":"OVA_UV","vol":12.0,"signal":0.0035},{"trace":"OVA_UV","vol":12.25,"signal":0.006},{"trace":"OVA_UV","vol":12.5,"signal":0.0105},{"trace":"OVA_UV","vol":12.65,"signal":0.019},{"trace":"OVA_UV","vol":12.79,"signal":0.029},{"trace":"OVA_UV","vol":12.9,"signal":0.034},{"trace":"OVA_UV","vol":12.98,"signal":0.0355},{"trace":"OVA_UV","vol":13.1,"signal":0.031},{"trace":"OVA_UV","vol":13.25,"signal":0.0205},{"trace":"OVA_UV","vol":13.4,"signal":0.0145},{"trace":"OVA_UV","vol":13.51,"signal":0.0125},{"trace":"OVA_UV","vol":13.65,"signal":0.0125},{"trace":"OVA_UV","vol":13.78,"signal":0.014},{"trace":"OVA_UV","vol":13.9,"signal":0.016},{"trace":"OVA_UV","vol":13.98,"signal":0.018},{"trace":"OVA_UV","vol":14.1,"signal":0.027},{"trace":"OVA_UV","vol":14.2,"signal":0.042},{"trace":"OVA_UV","vol":14.33,"signal":0.07},{"trace":"OVA_UV","vol":14.44,"signal":0.12},{"trace":"OVA_UV","vol":14.54,"signal":0.19},{"trace":"OVA_UV","vol":14.67,"signal":0.259},{"trace":"OVA_UV","vol":14.75,"signal":0.284},{"trace":"OVA_UV","vol":14.83,"signal":0.27},{"trace":"OVA_UV","vol":14.91,"signal":0.235},{"trace":"OVA_UV","vol":15.0,"signal":0.19},{"trace":"OVA_UV","vol":15.09,"signal":0.143},{"trace":"OVA_UV","vol":15.15,"signal":0.11},{"trace":"OVA_UV","vol":15.22,"signal":0.074},{"trace":"OVA_UV","vol":15.3,"signal":0.045},{"trace":"OVA_UV","vol":15.37,"signal":0.026},{"trace":"OVA_UV","vol":15.45,"signal":0.014},{"trace":"OVA_UV","vol":15.53,"signal":0.008},{"trace":"OVA_UV","vol":15.65,"signal":0.004},{"trace":"OVA_UV","vol":15.8,"signal":0.0025},{"trace":"OVA_UV","vol":16.0,"signal":0.002},
{"trace":"Ova_071305","vol":6.0,"signal":0.001},{"trace":"Ova_071305","vol":6.5,"signal":0.0012},{"trace":"Ova_071305","vol":7.0,"signal":0.0018},{"trace":"Ova_071305","vol":7.5,"signal":0.0025},{"trace":"Ova_071305","vol":7.9,"signal":0.004},{"trace":"Ova_071305","vol":8.0,"signal":0.0055},{"trace":"Ova_071305","vol":8.1,"signal":0.0075},{"trace":"Ova_071305","vol":8.16,"signal":0.008},{"trace":"Ova_071305","vol":8.25,"signal":0.0065},{"trace":"Ova_071305","vol":8.4,"signal":0.005},{"trace":"Ova_071305","vol":8.5,"signal":0.0048},{"trace":"Ova_071305","vol":9.0,"signal":0.0055},{"trace":"Ova_071305","vol":9.5,"signal":0.006},{"trace":"Ova_071305","vol":10.0,"signal":0.0065},{"trace":"Ova_071305","vol":10.5,"signal":0.007},{"trace":"Ova_071305","vol":11.0,"signal":0.0078},{"trace":"Ova_071305","vol":11.5,"signal":0.0092},{"trace":"Ova_071305","vol":11.8,"signal":0.0125},{"trace":"Ova_071305","vol":12.0,"signal":0.0172},{"trace":"Ova_071305","vol":12.1,"signal":0.02},{"trace":"Ova_071305","vol":12.21,"signal":0.0219},{"trace":"Ova_071305","vol":12.35,"signal":0.019},{"trace":"Ova_071305","vol":12.5,"signal":0.015},{"trace":"Ova_071305","vol":12.6,"signal":0.0135},{"trace":"Ova_071305","vol":12.69,"signal":0.015},{"trace":"Ova_071305","vol":12.75,"signal":0.019},{"trace":"Ova_071305","vol":12.85,"signal":0.029},{"trace":"Ova_071305","vol":12.92,"signal":0.04},{"trace":"Ova_071305","vol":13.0,"signal":0.058},{"trace":"Ova_071305","vol":13.06,"signal":0.074},{"trace":"Ova_071305","vol":13.12,"signal":0.088},{"trace":"Ova_071305","vol":13.2,"signal":0.1},{"trace":"Ova_071305","vol":13.27,"signal":0.106},{"trace":"Ova_071305","vol":13.33,"signal":0.108},{"trace":"Ova_071305","vol":13.4,"signal":0.104},{"trace":"Ova_071305","vol":13.51,"signal":0.088},{"trace":"Ova_071305","vol":13.61,"signal":0.072},{"trace":"Ova_071305","vol":13.71,"signal":0.048},{"trace":"Ova_071305","vol":13.83,"signal":0.03},{"trace":"Ova_071305","vol":13.91,"signal":0.018},{"trace":"Ova_071305","vol":14.05,"signal":0.009},{"trace":"Ova_071305","vol":14.2,"signal":0.005},{"trace":"Ova_071305","vol":14.28,"signal":0.007},{"trace":"Ova_071305","vol":14.35,"signal":0.012},{"trace":"Ova_071305","vol":14.42,"signal":0.022},{"trace":"Ova_071305","vol":14.47,"signal":0.03},{"trace":"Ova_071305","vol":14.55,"signal":0.055},{"trace":"Ova_071305","vol":14.63,"signal":0.1},{"trace":"Ova_071305","vol":14.7,"signal":0.165},{"trace":"Ova_071305","vol":14.75,"signal":0.225},{"trace":"Ova_071305","vol":14.8,"signal":0.295},{"trace":"Ova_071305","vol":14.85,"signal":0.374},{"trace":"Ova_071305","vol":14.9,"signal":0.467},{"trace":"Ova_071305","vol":14.95,"signal":0.6},{"trace":"Ova_071305","vol":15.0,"signal":0.74},{"trace":"Ova_071305","vol":15.05,"signal":0.85},{"trace":"Ova_071305","vol":15.1,"signal":0.925},{"trace":"Ova_071305","vol":15.15,"signal":0.951},{"trace":"Ova_071305","vol":15.2,"signal":0.925},{"trace":"Ova_071305","vol":15.25,"signal":0.85},{"trace":"Ova_071305","vol":15.3,"signal":0.74},{"trace":"Ova_071305","vol":15.35,"signal":0.61},{"trace":"Ova_071305","vol":15.4,"signal":0.49},{"trace":"Ova_071305","vol":15.45,"signal":0.38},{"trace":"Ova_071305","vol":15.5,"signal":0.28},{"trace":"Ova_071305","vol":15.55,"signal":0.2},{"trace":"Ova_071305","vol":15.6,"signal":0.135},{"trace":"Ova_071305","vol":15.65,"signal":0.092},{"trace":"Ova_071305","vol":15.7,"signal":0.065},{"trace":"Ova_071305","vol":15.8,"signal":0.036},{"trace":"Ova_071305","vol":15.9,"signal":0.02},{"trace":"Ova_071305","vol":16.0,"signal":0.012}
]
},
"layer": [
{
 "data": {"name": "scatter"},
 "transform": [{"filter": {"field": "series", "oneOf": ["OVA_c_UV", "OVA_d_UV"]}}],
 "mark": {"type": "point", "filled": true, "size": 110, "opacity": 1, "strokeWidth": 0},
 "encoding": {
  "x": {"field": "vol", "type": "quantitative", "scale": {"domain": [6, 16], "nice": false, "zero": false},
   "axis": {"orient": "bottom", "values": [6, 8, 10, 12, 14, 16], "format": ".1f", "tickSize": -22, "tickWidth": 2, "tickColor": "black", "domainColor": "black", "domainWidth": 3, "labelPadding": 38, "labelBaseline": "top", "labelFlush": false, "labelOverlap": false, "labelFont": "DejaVu Sans", "labelFontSize": 25.5, "labelColor": "black", "grid": false, "title": "Volume (mL)", "titleFont": "DejaVu Sans", "titleFontSize": 24, "titleFontWeight": "normal", "titleColor": "black", "titleY": 76, "titleBaseline": "alphabetic"}},
  "y": {"field": "mass", "type": "quantitative", "scale": {"type": "log", "domain": [10000, 1000000000], "nice": false},
   "axis": {"orient": "left", "values": [10000, 100000, 1000000, 10000000, 100000000, 1000000000], "tickSize": -18, "tickWidth": 2, "tickColor": "black", "domainColor": "black", "domainWidth": 3, "labelPadding": 27, "labelOffset": 3, "labelOverlap": false, "labelExpr": "'1.0x10' + ['⁴','⁵','⁶','⁷','⁸','⁹'][round(log(datum.value)/LN10) - 4]", "labelFont": "DejaVu Sans", "labelFontSize": 24, "labelColor": "black", "grid": false, "title": "Molar Mass (g/mol)", "titleFont": "Liberation Sans", "titleFontSize": 25.5, "titleFontWeight": "normal", "titleColor": "black", "titleX": -134, "titleY": 360, "titleBaseline": "alphabetic"}},
  "color": {"field": "series", "type": "nominal", "scale": {"domain": ["OVA_e_UV", "OVA_a_UV", "OVA_b_UV", "OVA_c_UV", "OVA_d_UV", "Ova_071305c", "Ova_071305a", "Ova_071305b"], "range": ["#000000", "#000080", "#000080", "#000080", "#000080", "#ff0000", "#008000", "#ff0000"]},
   "legend": {"title": null, "orient": "none", "legendX": 442, "legendY": 115, "labelLimit": 600, "labelExpr": "datum.label + '⠀⠀⠀⠀⠀⠀⠀⠀⠀⠀⠀⠀⠀'"}},
  "shape": {"field": "series", "type": "nominal", "scale": {"domain": ["OVA_e_UV", "OVA_a_UV", "OVA_b_UV", "OVA_c_UV", "OVA_d_UV", "Ova_071305c", "Ova_071305a", "Ova_071305b"], "range": ["diamond", "square", "triangle-up", "circle", "circle", "circle", "triangle-down", "diamond"]},
   "legend": {"title": null, "orient": "none", "legendX": 442, "legendY": 115, "labelLimit": 600, "labelExpr": "datum.label + '⠀⠀⠀⠀⠀⠀⠀⠀⠀⠀⠀⠀⠀'"}}
 }
},
{
 "data": {"name": "scatter"},
 "transform": [{"filter": {"field": "series", "equal": "OVA_a_UV"}}],
 "mark": {"type": "point", "filled": true, "size": 55, "opacity": 1, "strokeWidth": 0},
 "encoding": {
  "x": {"field": "vol", "type": "quantitative", "scale": {"domain": [6, 16], "nice": false, "zero": false}, "axis": null},
  "y": {"field": "mass", "type": "quantitative", "scale": {"type": "log", "domain": [10000, 1000000000], "nice": false}, "axis": null},
  "color": {"field": "series", "type": "nominal"},
  "shape": {"field": "series", "type": "nominal"}
 }
},
{
 "data": {"name": "scatter"},
 "transform": [{"filter": {"field": "series", "equal": "OVA_b_UV"}}],
 "mark": {"type": "point", "filled": true, "size": 35, "opacity": 1, "strokeWidth": 0},
 "encoding": {
  "x": {"field": "vol", "type": "quantitative", "scale": {"domain": [6, 16], "nice": false, "zero": false}, "axis": null},
  "y": {"field": "mass", "type": "quantitative", "scale": {"type": "log", "domain": [10000, 1000000000], "nice": false}, "axis": null},
  "color": {"field": "series", "type": "nominal"},
  "shape": {"field": "series", "type": "nominal"}
 }
},
{
 "data": {"name": "scatter"},
 "transform": [{"filter": {"field": "series", "equal": "OVA_e_UV"}}],
 "mark": {"type": "point", "filled": true, "size": 35, "opacity": 1, "strokeWidth": 0},
 "encoding": {
  "x": {"field": "vol", "type": "quantitative", "scale": {"domain": [6, 16], "nice": false, "zero": false}, "axis": null},
  "y": {"field": "mass", "type": "quantitative", "scale": {"type": "log", "domain": [10000, 1000000000], "nice": false}, "axis": null},
  "color": {"field": "series", "type": "nominal"},
  "shape": {"field": "series", "type": "nominal"}
 }
},
{
 "data": {"name": "scatter"},
 "transform": [{"filter": {"field": "series", "equal": "Ova_071305a"}}],
 "mark": {"type": "point", "filled": true, "size": 50, "opacity": 1, "strokeWidth": 0},
 "encoding": {
  "x": {"field": "vol", "type": "quantitative", "scale": {"domain": [6, 16], "nice": false, "zero": false}, "axis": null},
  "y": {"field": "mass", "type": "quantitative", "scale": {"type": "log", "domain": [10000, 1000000000], "nice": false}, "axis": null},
  "color": {"field": "series", "type": "nominal"},
  "shape": {"field": "series", "type": "nominal"}
 }
},
{
 "data": {"name": "scatter"},
 "transform": [{"filter": {"field": "series", "equal": "Ova_071305b"}}],
 "mark": {"type": "point", "filled": true, "size": 75, "opacity": 1, "strokeWidth": 0},
 "encoding": {
  "x": {"field": "vol", "type": "quantitative", "scale": {"domain": [6, 16], "nice": false, "zero": false}, "axis": null},
  "y": {"field": "mass", "type": "quantitative", "scale": {"type": "log", "domain": [10000, 1000000000], "nice": false}, "axis": null},
  "color": {"field": "series", "type": "nominal"},
  "shape": {"field": "series", "type": "nominal"}
 }
},
{
 "data": {"name": "scatter"},
 "transform": [{"filter": {"field": "series", "equal": "Ova_071305c"}}],
 "mark": {"type": "point", "filled": true, "size": 100, "opacity": 1, "strokeWidth": 0},
 "encoding": {
  "x": {"field": "vol", "type": "quantitative", "scale": {"domain": [6, 16], "nice": false, "zero": false},
   "axis": {"orient": "bottom", "values": [6, 6.5, 7, 7.5, 8, 8.5, 9, 9.5, 10, 10.5, 11, 11.5, 12, 12.5, 13, 13.5, 14, 14.5, 15, 15.5, 16], "tickSize": -8, "tickWidth": 2, "tickColor": "black", "labels": false, "domain": false, "grid": false, "title": null}},
  "y": {"field": "mass", "type": "quantitative", "scale": {"type": "log", "domain": [10000, 1000000000], "nice": false},
   "axis": {"orient": "left", "values": [2e4, 3e4, 4e4, 5e4, 6e4, 7e4, 8e4, 9e4, 2e5, 3e5, 4e5, 5e5, 6e5, 7e5, 8e5, 9e5, 2e6, 3e6, 4e6, 5e6, 6e6, 7e6, 8e6, 9e6, 2e7, 3e7, 4e7, 5e7, 6e7, 7e7, 8e7, 9e7, 2e8, 3e8, 4e8, 5e8, 6e8, 7e8, 8e8, 9e8], "tickSize": -10, "tickWidth": 2, "tickColor": "black", "labels": false, "domain": false, "grid": false, "title": null}},
  "color": {"field": "series", "type": "nominal"},
  "shape": {"field": "series", "type": "nominal"}
 }
},
{
 "data": {"name": "traces"},
 "transform": [{"filter": {"field": "trace", "equal": "OVA_UV"}}],
 "mark": {"type": "line", "color": "#000080", "strokeWidth": 4.6, "interpolate": "monotone"},
 "encoding": {
  "x": {"field": "vol", "type": "quantitative", "scale": {"domain": [6, 16], "nice": false, "zero": false}, "axis": null},
  "y": {"field": "signal", "type": "quantitative", "scale": {"domain": [0, 1], "nice": false, "zero": false}, "axis": null}
 }
},
{
 "data": {"name": "traces"},
 "transform": [{"filter": {"field": "trace", "equal": "Ova_071305"}}],
 "mark": {"type": "line", "color": "#ff0000", "strokeWidth": 3.6, "interpolate": "monotone"},
 "encoding": {
  "x": {"field": "vol", "type": "quantitative", "scale": {"domain": [6, 16], "nice": false, "zero": false}, "axis": null},
  "y": {"field": "signal", "type": "quantitative", "scale": {"domain": [0, 1], "nice": false, "zero": false}, "axis": null}
 }
},
{
 "data": {"values": [{"note": "Ovalbumin\u00a0\u00a0\u00a0(5 runs)", "line": 1}, {"note": "Mw = 108 ± 17 kDa", "line": 2}, {"note": "Polydispersity\u00a0\u00a0Mw/Mn", "line": 3}]},
 "mark": {"type": "text", "align": "left", "baseline": "alphabetic", "font": "Liberation Sans", "fontSize": 47, "fontWeight": "bold", "fontStyle": "italic", "color": "#00008B"},
 "encoding": {
  "x": {"datum": 16.45, "type": "quantitative", "axis": null},
  "y": {"field": "line", "type": "quantitative", "scale": {"domain": [-0.0435, 8.293], "reverse": true, "nice": false, "zero": false}, "axis": null},
  "text": {"field": "note"}
 }
},
{
 "data": {"values": [{"note": "2.3 ± 0.4", "line": 4}]},
 "mark": {"type": "text", "align": "left", "baseline": "alphabetic", "font": "Liberation Sans", "fontSize": 47, "fontWeight": "bold", "fontStyle": "italic", "color": "#00008B"},
 "encoding": {
  "x": {"datum": 18.685, "type": "quantitative", "axis": null},
  "y": {"field": "line", "type": "quantitative", "scale": {"domain": [-0.0435, 8.293], "reverse": true, "nice": false, "zero": false}, "axis": null},
  "text": {"field": "note"}
 }
},
{
 "data": {"values": [{"note": "Ovalbumin\u00a0\u00a0\u00a0\u00a0(3 runs)", "line": 6}, {"note": "Mw = 141 ± 3 kDa", "line": 7}, {"note": "Polydispersity\u00a0\u00a0Mw/Mn", "line": 8}]},
 "mark": {"type": "text", "align": "left", "baseline": "alphabetic", "font": "Liberation Sans", "fontSize": 47, "fontWeight": "bold", "fontStyle": "italic", "color": "#ff0000"},
 "encoding": {
  "x": {"datum": 16.3, "type": "quantitative", "axis": null},
  "y": {"field": "line", "type": "quantitative", "scale": {"domain": [-0.0435, 8.293], "reverse": true, "nice": false, "zero": false}, "axis": null},
  "text": {"field": "note"}
 }
},
{
 "data": {"values": [{"note": "2.92 ± 0.06", "line": 9}]},
 "mark": {"type": "text", "align": "left", "baseline": "alphabetic", "font": "Liberation Sans", "fontSize": 47, "fontWeight": "bold", "fontStyle": "italic", "color": "#ff0000"},
 "encoding": {
  "x": {"datum": 18.3, "type": "quantitative", "axis": null},
  "y": {"field": "line", "type": "quantitative", "scale": {"domain": [-0.0435, 8.293], "reverse": true, "nice": false, "zero": false}, "axis": null},
  "text": {"field": "note"}
 }
}
],
"resolve": {"scale": {"y": "independent"}, "axis": {"x": "independent", "y": "independent"}}
}
